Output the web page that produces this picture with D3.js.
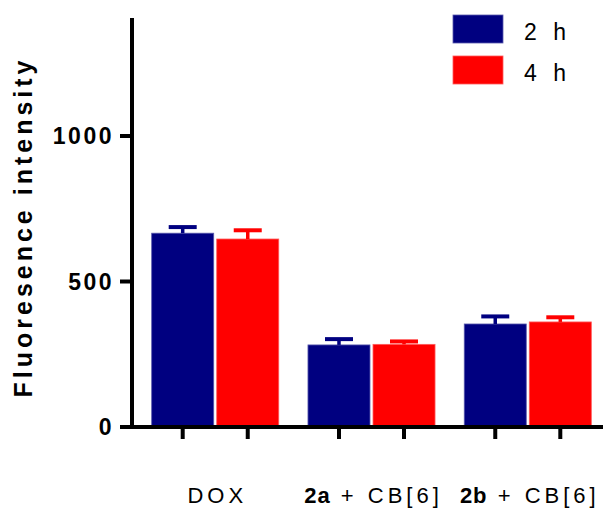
<!DOCTYPE html>
<html>
<head>
<meta charset="utf-8">
<script src="https://cdn.jsdelivr.net/npm/d3@7"></script>
<style>
  html, body { margin: 0; padding: 0; background: #fff; }
  svg { display: block; font-family: "Liberation Sans", Arial, Helvetica, sans-serif; }
</style>
</head>
<body>
<svg id="chart" width="605" height="509"></svg>
<script>
// Sample groups and the two incubation times
const groups = ["DOX", "2a + CB[6]", "2b + CB[6]"];
const groupBold = ["", "2a", "2b"];
const groupRest = ["DOX", " + CB[6]", " + CB[6]"];
const series = ["2 h", "4 h"];
const colors = ["#000080", "#ff0000"];

// Mean fluorescence intensity and upper error (SD) per group
const values2h = [666, 282, 354];
const errors2h = [21, 20, 26];
const values4h = [646, 284, 361];
const errors4h = [30, 10, 16];

const yTicks = [0, 500, 1000];

const svg = d3.select("#chart");

const y = d3.scaleLinear().domain([0, 1400]).range([427, 19.6]);

const x0 = d3.scaleBand().domain(groups).range([132, 611])
  .paddingInner(0.187).paddingOuter(0.126);
const x1 = d3.scaleBand().domain(series).range([0, x0.bandwidth()])
  .paddingInner(0.0465).paddingOuter(0);

const rows = [];
groups.forEach((g, i) => {
  rows.push({ g, s: series[0], v: values2h[i], e: errors2h[i], c: colors[0] });
  rows.push({ g, s: series[1], v: values4h[i], e: errors4h[i], c: colors[1] });
});

// Bars
svg.append("g").selectAll("rect").data(rows).join("rect")
  .attr("x", d => x0(d.g) + x1(d.s))
  .attr("y", d => y(d.v))
  .attr("width", x1.bandwidth())
  .attr("height", d => y(0) - y(d.v))
  .attr("fill", d => d.c)
  .attr("stroke", d => d3.interpolateRgb(d.c, "#ffffff")(0.35))
  .attr("stroke-width", 0.8);

// Error bars (upper only)
const eb = svg.append("g").selectAll("g").data(rows).join("g")
  .attr("stroke", d => d.c);
eb.append("line")
  .attr("x1", d => x0(d.g) + x1(d.s) + x1.bandwidth() / 2)
  .attr("x2", d => x0(d.g) + x1(d.s) + x1.bandwidth() / 2)
  .attr("y1", d => y(d.v))
  .attr("y2", d => y(d.v + d.e))
  .attr("stroke-width", 3.5);
eb.append("line")
  .attr("x1", d => x0(d.g) + x1(d.s) + x1.bandwidth() / 2 - 14)
  .attr("x2", d => x0(d.g) + x1(d.s) + x1.bandwidth() / 2 + 14)
  .attr("y1", d => y(d.v + d.e))
  .attr("y2", d => y(d.v + d.e))
  .attr("stroke-width", 4);

// Y axis
const yAxis = svg.append("g");
yAxis.append("line")
  .attr("x1", 132).attr("x2", 132)
  .attr("y1", 18).attr("y2", y(0) + 2)
  .attr("stroke", "#000").attr("stroke-width", 4);
yAxis.selectAll("line.tick").data(yTicks).join("line")
  .attr("class", "tick")
  .attr("x1", 120).attr("x2", 132)
  .attr("y1", d => y(d)).attr("y2", d => y(d))
  .attr("stroke", "#000").attr("stroke-width", 4);
yAxis.selectAll("text").data(yTicks).join("text")
  .attr("x", 114)
  .attr("y", d => y(d))
  .attr("dy", "0.36em")
  .attr("text-anchor", "end")
  .attr("font-size", 23)
  .attr("font-weight", "bold")
  .attr("letter-spacing", 2.5)
  .text(d => d);

// Y axis title
svg.append("text")
  .attr("transform", "translate(32,227) rotate(-90)")
  .attr("text-anchor", "middle")
  .attr("font-size", 25)
  .attr("font-weight", "bold")
  .attr("letter-spacing", 4)
  .text("Fluoresence intensity");

// X axis
const xAxis = svg.append("g");
xAxis.append("line")
  .attr("x1", 120).attr("x2", 603)
  .attr("y1", y(0)).attr("y2", y(0))
  .attr("stroke", "#000").attr("stroke-width", 4);
xAxis.selectAll("line.tick").data(rows).join("line")
  .attr("class", "tick")
  .attr("x1", d => x0(d.g) + x1(d.s) + x1.bandwidth() / 2)
  .attr("x2", d => x0(d.g) + x1(d.s) + x1.bandwidth() / 2)
  .attr("y1", y(0)).attr("y2", y(0) + 12)
  .attr("stroke", "#000").attr("stroke-width", 4);

// Group labels
const labels = xAxis.selectAll("text").data(groups).join("text")
  .attr("x", d => x0(d) + x0.bandwidth() / 2 + 2)
  .attr("y", 503)
  .attr("text-anchor", "middle")
  .attr("font-size", 22)
  .attr("letter-spacing", 4);
labels.append("tspan")
  .attr("font-weight", "bold")
  .attr("letter-spacing", 1)
  .text((d, i) => groupBold[i]);
labels.append("tspan")
  .text((d, i) => groupRest[i]);

// Legend
const legend = svg.append("g").selectAll("g").data(series).join("g")
  .attr("transform", (d, i) => `translate(453,${15 + i * 41})`);
legend.append("rect")
  .attr("width", 50).attr("height", 28)
  .attr("fill", (d, i) => colors[i])
  .attr("stroke", (d, i) => d3.interpolateRgb(colors[i], "#ffffff")(0.35))
  .attr("stroke-width", 0.8);
legend.append("text")
  .attr("x", 71).attr("y", 25)
  .attr("font-size", 23)
  .attr("letter-spacing", 5)
  .text(d => d);
</script>
</body>
</html>
